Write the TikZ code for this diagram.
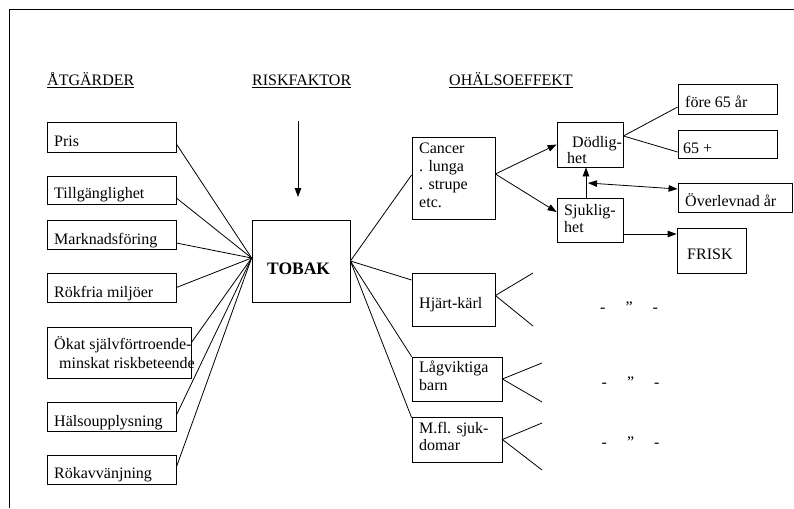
\documentclass[tikz,border=0pt]{standalone}
\usepackage{fontspec}
\setmainfont{Liberation Serif}
\usetikzlibrary{arrows.meta}

\begin{document}
\begin{tikzpicture}[
    x=1pt, y=-1pt,
    box/.style={draw, line width=0.8pt, inner sep=0pt},
    txt/.style={anchor=base west, inner sep=0pt, align=left,
      font=\fontsize{16}{17.7}\selectfont},
    link/.style={line width=0.8pt},
    arr/.style={line width=0.8pt, -{Triangle[length=9pt,width=6.5pt]}},
    twoway/.style={line width=0.8pt,
      {Triangle[length=9pt,width=6.5pt]}-{Triangle[length=9pt,width=6.5pt]}},
    ]
    \useasboundingbox (0,0) rectangle (794,508);

    % --- Frame (top and left edge) ---
    \draw[line width=0.9pt] (9,508) -- (9,9) -- (794,9);

    % --- Column headings ---
    \node[txt] (h1) at (47,86) {\underline{ÅTGÄRDER}};
    \node[txt] (h2) at (252,86) {\underline{RISKFAKTOR}};
    \node[txt] (h3) at (449,86) {\underline{OHÄLSOEFFEKT}};

    % --- Left column: measures ---
    \node[box, minimum width=129pt, minimum height=30pt] (pris) at (111.5,137) {};
    \node[box, minimum width=129pt, minimum height=28pt] (tillg) at (111.5,190) {};
    \node[box, minimum width=129pt, minimum height=29pt] (markn) at (111.5,234.5) {};
    \node[box, minimum width=129pt, minimum height=29pt] (rokfria) at (111.5,287.5) {};
    \node[box, minimum width=144pt, minimum height=51pt] (okat) at (119,352.5) {};
    \node[box, minimum width=129pt, minimum height=29pt] (halso) at (111.5,416.5) {};
    \node[box, minimum width=129pt, minimum height=29pt] (rokavv) at (111.5,469.5) {};

    % (multi-line texts sit on the baseline of their last line)
    \node[txt] (pris-t) at (54,146) {Pris};
    \node[txt] (tillg-t) at (54,198) {Tillgänglighet};
    \node[txt] (markn-t) at (54,244) {Marknadsföring};
    \node[txt] (rokfria-t) at (54,297) {Rökfria miljöer};
    \node[txt] (okat-t) at (54,368) {Ökat självförtroende-\\[1.3pt]
      \hspace{5pt}minskat riskbeteende};
    \node[txt] (halso-t) at (54,426) {Hälsoupplysning};
    \node[txt] (rokavv-t) at (54,478) {Rökavvänjning};

    % --- Risk factor ---
    \node[box, minimum width=98pt, minimum height=82pt] (tobak) at (301,261) {};
    \node[txt, font=\fontsize{17.5}{20}\selectfont\bfseries] (tobak-t) at (267,274) {TOBAK};
    \coordinate (risktop) at (298,121);
    \coordinate (riskend) at (298,197);
    \draw[arr] (risktop) -- (riskend);

    % --- Measures to TOBAK ---
    \draw[link] ([yshift=-7pt]pris.east) -- ([yshift=3pt]tobak.west);
    \draw[link] ([yshift=-8pt]tillg.east) -- ([yshift=3pt]tobak.west);
    \draw[link] ([yshift=-8.5pt]markn.east) -- ([yshift=3pt]tobak.west);
    \draw[link] (rokfria.east) -- ([yshift=3pt]tobak.west);
    \draw[link] ([yshift=10pt]okat.east) -- ([yshift=3pt]tobak.west);
    \draw[link] ([yshift=1.5pt]halso.east) -- ([yshift=3pt]tobak.west);
    \draw[link] ([yshift=2.5pt]rokavv.east) -- ([yshift=3pt]tobak.west);

    % --- Health effects ---
    \node[box, minimum width=83pt, minimum height=82pt] (cancer) at (453.5,178) {};
    \node[box, minimum width=83pt, minimum height=53pt] (hjart) at (453.5,299.5) {};
    \node[box, minimum width=90pt, minimum height=44pt] (lagv) at (457,379) {};
    \node[box, minimum width=90pt, minimum height=45pt] (mfl) at (457,439.5) {};

    \node[txt] (cancer-t) at (419,207) {Cancer\\. lunga\\. strupe\\etc.};
    \node[txt] (hjart-t) at (419,308) {Hjärt-kärl};
    \node[txt] (lagv-t) at (419,390) {Lågviktiga\\[0.3pt]barn};
    \node[txt] (mfl-t) at (419,450) {M.fl. sjuk-\\[-0.7pt]domar};

    \draw[link] (tobak.east) -- ([yshift=3pt]cancer.west);
    \draw[link] (tobak.east) -- ([yshift=19.5pt]hjart.west);
    \draw[link] (tobak.east) -- (lagv.north west);
    \draw[link] (tobak.east) -- ([yshift=-1pt]mfl.north west);

    % --- Cancer outcomes ---
    \node[box, minimum width=66pt, minimum height=45pt] (dodl) at (590,144.5) {};
    \node[box, minimum width=66pt, minimum height=44pt] (sjuk) at (590,220) {};
    \node[txt] (dodl-t) at (567,163) {\hspace{5pt}Dödlig-\\[-1.7pt]het};
    \node[txt] (sjuk-t) at (564,232) {Sjuklig-\\[-0.7pt]het};

    \draw[arr] ([yshift=4pt]cancer.east) -- (dodl.west);
    \draw[arr] ([yshift=4pt]cancer.east) -- ([yshift=8pt]sjuk.west);

    \node[box, minimum width=99pt, minimum height=30pt] (fore) at (727.5,99) {};
    \node[box, minimum width=99pt, minimum height=28pt] (plus) at (727.5,144) {};
    \node[box, minimum width=114pt, minimum height=29pt] (overl) at (735,197.5) {};
    \node[box, minimum width=69pt, minimum height=45pt] (frisk) at (711.5,250.5) {};

    \node[txt] (fore-t) at (685,108) {före 65 år};
    \node[txt] (plus-t) at (683,153) {65 +};
    \node[txt] (overl-t) at (685,206) {Överlevnad år};
    \node[txt] (frisk-t) at (687,259) {FRISK};

    \draw[link] ([yshift=8.5pt]dodl.east) -- ([yshift=-8pt]fore.west);
    \draw[link] ([yshift=8.5pt]dodl.east) -- ([yshift=-8pt]plus.west);
    \draw[arr] ([xshift=-4pt]sjuk.north) -- ([xshift=-4pt]dodl.south);
    \coordinate (survmid) at (588,183);
    \draw[twoway] (survmid) -- ([yshift=8.5pt]overl.west);
    \draw[arr] ([yshift=-14pt]sjuk.east) -- ([yshift=-14pt]sjuk.east -| frisk.west);

    % --- Other diseases: same outcomes ---
    \coordinate (hjart-up) at (533,273);
    \coordinate (hjart-dn) at (533,326);
    \coordinate (lagv-up) at (542,363);
    \coordinate (lagv-dn) at (542,402);
    \coordinate (mfl-up) at (542,423);
    \coordinate (mfl-dn) at (542,470);
    \draw[link] (hjart-up) -- ([yshift=4pt]hjart.east) -- (hjart-dn);
    \draw[link] (lagv-up) -- (lagv.east) -- (lagv-dn);
    \draw[link] (mfl-up) -- (mfl.east) -- (mfl-dn);

    \node[txt] (ditto1) at (600,312) {-\hspace{20pt}”\hspace{20pt}-};
    \node[txt] (ditto2) at (601.5,387) {-\hspace{20pt}”\hspace{20pt}-};
    \node[txt] (ditto3) at (601.5,447) {-\hspace{20pt}”\hspace{20pt}-};

  \end{tikzpicture}
\end{document}
